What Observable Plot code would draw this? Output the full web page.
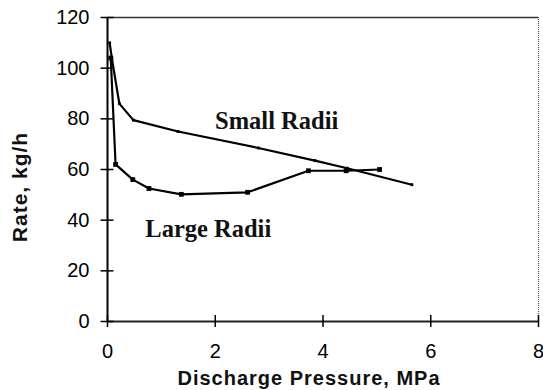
<!DOCTYPE html>
<html>
<head>
<meta charset="utf-8">
<script src="https://cdn.jsdelivr.net/npm/d3@7"></script>
<script src="https://cdn.jsdelivr.net/npm/@observablehq/plot@0.6"></script>
<style>
  html, body { margin: 0; padding: 0; background: #fff; }
  #chart { width: 543px; height: 390px; overflow: hidden; }
</style>
</head>
<body>
<div id="chart"></div>
<script>
// Small Radii series
const smallX = [0.04, 0.08, 0.22, 0.48, 1.31, 2.8, 3.85, 4.45, 5.65];
const smallY = [110, 104, 86, 79.5, 75, 68.5, 63.5, 60.5, 54];
// Large Radii series
const largeX = [0.06, 0.15, 0.47, 0.77, 1.37, 2.6, 3.73, 4.43, 5.05];
const largeY = [104, 62, 56, 52.5, 50.2, 51, 59.5, 59.5, 60];
// ticks
const xTicks = [0, 2, 4, 6, 8];
const yTicks = [0, 20, 40, 60, 80, 100, 120];
// annotations
const labelText = ["Small Radii", "Large Radii"];
const labelX = [3.14, 1.87];
const labelY = [79, 36.5];

const small = smallX.map((x, i) => ({x, y: smallY[i]}));
const large = largeX.map((x, i) => ({x, y: largeY[i]}));
const labels = labelText.map((t, i) => ({t, x: labelX[i], y: labelY[i]}));

const sans = "Liberation Sans, Arial, sans-serif";

const chart = Plot.plot({
  width: 543,
  height: 390,
  marginLeft: 107,
  marginRight: 5,
  marginTop: 17,
  marginBottom: 69,
  style: {background: "#fff", color: "#000", overflow: "visible"},
  x: {domain: [0, 8]},
  y: {domain: [0, 120]},
  marks: [
    // frame top & right
    Plot.ruleY([120], {stroke: "#333", strokeWidth: 1.5}),
    Plot.ruleX([8], {stroke: "#555", strokeWidth: 1.2, strokeDasharray: "1,1"}),
    // axes lines
    Plot.ruleX([0], {stroke: "#000", strokeWidth: 2}),
    Plot.ruleY([0], {stroke: "#222", strokeWidth: 2}),
    // crossing tick marks
    Plot.ruleY(yTicks, {y: d => d, x1: -0.12, x2: 0.12, stroke: "#000", strokeWidth: 1.5, clip: false}),
    Plot.ruleX(xTicks, {x: d => d, y1: -2.4, y2: 2.4, stroke: "#000", strokeWidth: 1.5, clip: false}),
    Plot.axisX(xTicks, {tickSize: 0, tickPadding: 22, fontSize: 20, fontFamily: sans, label: null}),
    Plot.axisY(yTicks, {tickSize: 0, tickPadding: 18, fontSize: 20, fontFamily: sans, label: null}),
    // series
    Plot.line(small, {x: "x", y: "y", stroke: "#000", strokeWidth: 2.2}),
    Plot.dot(small, {x: "x", y: "y", symbol: "square", r: 1.6, fill: "#000"}),
    Plot.line(large, {x: "x", y: "y", stroke: "#000", strokeWidth: 2.2}),
    Plot.dot(large, {x: "x", y: "y", symbol: "square", r: 2.7, fill: "#000"}),
    // annotations
    Plot.text(labels, {x: "x", y: "y", text: "t", fontSize: 24.5, fontWeight: "bold", fontFamily: "Liberation Serif, Times New Roman, serif", fill: "#111"})
  ]
});

const svg = d3.select(chart);
svg.append("text")
  .attr("x", 309).attr("y", 385)
  .attr("text-anchor", "middle")
  .attr("font-family", sans)
  .attr("font-weight", "bold")
  .attr("font-size", 20)
  .attr("letter-spacing", 1)
  .attr("fill", "#111")
  .text("Discharge Pressure, MPa");
svg.append("text")
  .attr("transform", "translate(27,187) rotate(-90)")
  .attr("text-anchor", "middle")
  .attr("font-family", sans)
  .attr("font-weight", "bold")
  .attr("font-size", 21)
  .attr("letter-spacing", 1)
  .attr("fill", "#111")
  .text("Rate, kg/h");

document.getElementById("chart").appendChild(chart);
</script>
</body>
</html>
